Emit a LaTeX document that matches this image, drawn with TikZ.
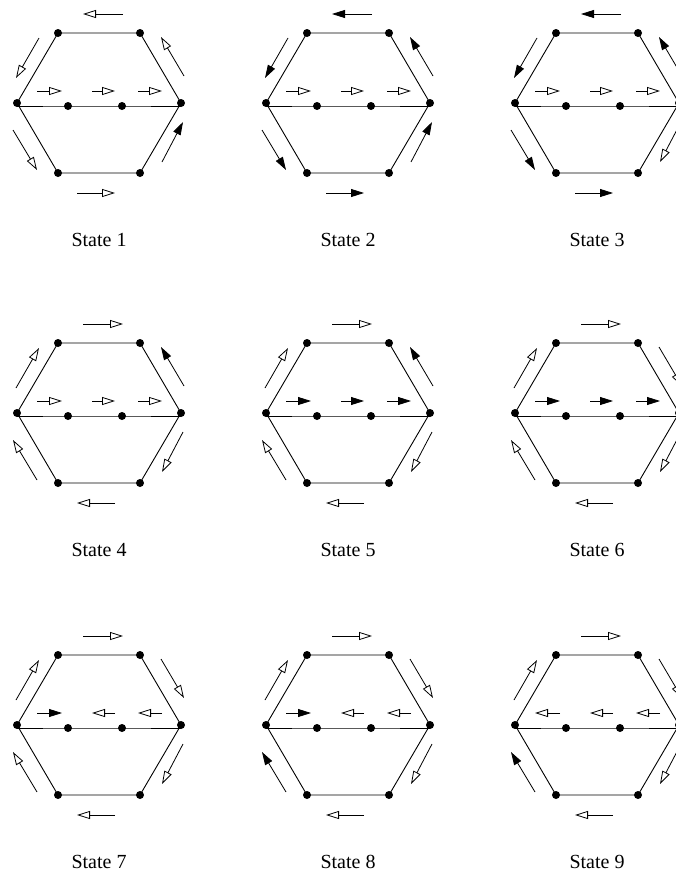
\documentclass[tikz,border=0pt]{standalone}
\usepackage{fontspec}
\setmainfont{Liberation Serif}
\usetikzlibrary{arrows.meta}

% one hexagon cell: #1,#2 centre, #3 state number, #4 arrows (style/from/to)
\newcommand{\hexcell}[4]{%
  \begin{scope}[shift={(#1,#2)}]
    % corners and middle dots
    \coordinate (L)  at (-82,0);
    \coordinate (TL) at (-41,70);
    \coordinate (TR) at (41,70);
    \coordinate (R)  at (82,0);
    \coordinate (BR) at (41,-70);
    \coordinate (BL) at (-41,-70);
    \coordinate (ML) at (-82,-3);
    \coordinate (MR) at (82,-3);
    \coordinate (D1) at (-31,-3);
    \coordinate (D2) at (23,-3);
    % arrow end points beside the edges
    \coordinate (t1)  at (-16,89);  \coordinate (t2)  at (24,89);
    \coordinate (b1)  at (-22,-90); \coordinate (b2)  at (16,-90);
    \coordinate (ul1) at (-83,25);  \coordinate (ul2) at (-60,65);
    \coordinate (ur1) at (85,27);   \coordinate (ur2) at (62,66);
    \coordinate (ll1) at (-62,-67); \coordinate (ll2) at (-86,-27);
    \coordinate (lr1) at (63,-59);  \coordinate (lr2) at (84,-19);
    \coordinate (ma1) at (-62,12);  \coordinate (ma2) at (-37,12);
    \coordinate (mb1) at (-7,12);   \coordinate (mb2) at (16,12);
    \coordinate (mc1) at (39,12);   \coordinate (mc2) at (63,12);
    % edges
    \draw[edge] (L) -- (TL) -- (TR) -- (R) -- (BR) -- (BL) -- cycle;
    \draw[edge] (ML) -- (D1) -- (D2) -- (MR);
    \foreach \p in {L,TL,TR,R,BR,BL,D1,D2} \fill (\p) circle (4bp);
    % arrows
    \foreach \s/\a/\b in {#4} \draw[\s] (\a) -- (\b);
    \node[statelabel] (state#3) at (0,-137) {State #3};
  \end{scope}}

\begin{document}
\begin{tikzpicture}[x=1bp,y=1bp,
    edge/.style={line width=0.9bp},
    oarr/.style={line width=0.8bp,-{Triangle[open,length=13bp,width=8bp]}},
    farr/.style={line width=0.8bp,-{Triangle[length=13bp,width=8bp]}},
    statelabel/.style={font=\fontsize{20bp}{24bp}\selectfont}]
  \useasboundingbox (0,0) rectangle (676,-877);

  % Row 1
  \hexcell{99}{-103}{1}{oarr/t2/t1, oarr/ul2/ul1, oarr/ur1/ur2, oarr/ll2/ll1,
    farr/lr1/lr2, oarr/b1/b2, oarr/ma1/ma2, oarr/mb1/mb2, oarr/mc1/mc2}
  \hexcell{348}{-103}{2}{farr/t2/t1, farr/ul2/ul1, farr/ur1/ur2, farr/ll2/ll1,
    farr/lr1/lr2, farr/b1/b2, oarr/ma1/ma2, oarr/mb1/mb2, oarr/mc1/mc2}
  \hexcell{597}{-103}{3}{farr/t2/t1, farr/ul2/ul1, farr/ur1/ur2, farr/ll2/ll1,
    oarr/lr2/lr1, farr/b1/b2, oarr/ma1/ma2, oarr/mb1/mb2, oarr/mc1/mc2}

  % Row 2
  \hexcell{99}{-413}{4}{oarr/t1/t2, oarr/ul1/ul2, farr/ur1/ur2, oarr/ll1/ll2,
    oarr/lr2/lr1, oarr/b2/b1, oarr/ma1/ma2, oarr/mb1/mb2, oarr/mc1/mc2}
  \hexcell{348}{-413}{5}{oarr/t1/t2, oarr/ul1/ul2, farr/ur1/ur2, oarr/ll1/ll2,
    oarr/lr2/lr1, oarr/b2/b1, farr/ma1/ma2, farr/mb1/mb2, farr/mc1/mc2}
  \hexcell{597}{-413}{6}{oarr/t1/t2, oarr/ul1/ul2, oarr/ur2/ur1, oarr/ll1/ll2,
    oarr/lr2/lr1, oarr/b2/b1, farr/ma1/ma2, farr/mb1/mb2, farr/mc1/mc2}

  % Row 3
  \hexcell{99}{-725}{7}{oarr/t1/t2, oarr/ul1/ul2, oarr/ur2/ur1, oarr/ll1/ll2,
    oarr/lr2/lr1, oarr/b2/b1, farr/ma1/ma2, oarr/mb2/mb1, oarr/mc2/mc1}
  \hexcell{348}{-725}{8}{oarr/t1/t2, oarr/ul1/ul2, oarr/ur2/ur1, farr/ll1/ll2,
    oarr/lr2/lr1, oarr/b2/b1, farr/ma1/ma2, oarr/mb2/mb1, oarr/mc2/mc1}
  \hexcell{597}{-725}{9}{oarr/t1/t2, oarr/ul1/ul2, oarr/ur2/ur1, farr/ll1/ll2,
    oarr/lr2/lr1, oarr/b2/b1, oarr/ma2/ma1, oarr/mb2/mb1, oarr/mc2/mc1}
\end{tikzpicture}
\end{document}
